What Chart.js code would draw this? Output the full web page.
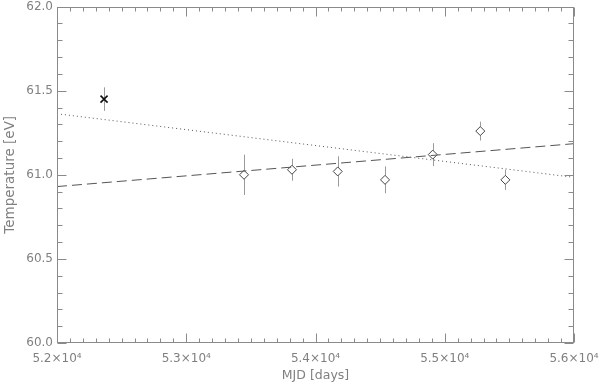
<!DOCTYPE html>
<html>
<head>
<meta charset="utf-8">
<script src="https://cdn.jsdelivr.net/npm/chart.js@4.4.0/dist/chart.umd.min.js"></script>
<style>
  html, body { margin: 0; padding: 0; background: #fff; }
  #wrap { width: 600px; height: 383px; }
</style>
</head>
<body>
<div id="wrap"><canvas id="tempChart" width="600" height="383"></canvas></div>
<script>
// observations (diamonds)
const mjd = [53447, 53818, 54172, 54538, 54907, 55275, 55469];
const temp = [61.00, 61.03, 61.02, 60.97, 61.12, 61.26, 60.97];
const tempErr = [0.12, 0.065, 0.09, 0.08, 0.068, 0.056, 0.06];

// the single cross point
const crossMjd = [52364];
const crossTemp = [61.45];
const crossErr = [0.07];

// fitted lines
const fitMjd = [52000, 56000];
const dashedFit = [60.93, 61.185];
const dottedFit = [61.363, 60.985];

const xTicks = [52000, 53000, 54000, 55000, 56000];
const yTicks = [60.0, 60.5, 61.0, 61.5, 62.0];

const axisColor = '#8a8a8a';
const textColor = '#808080';

function toPoints(xs, ys) {
    return xs.map((x, i) => ({ x: x, y: ys[i] }));
}

// draws the frame, minor ticks and error bars
const framePlugin = {
    id: 'frame',
    beforeDatasetsDraw(chart) {
        const ctx = chart.ctx;
        const xs = chart.scales.x;
        const ys = chart.scales.y;
        ctx.save();
        ctx.strokeStyle = '#9a9a9a';
        ctx.lineWidth = 1;
        const bars = [[mjd, temp, tempErr], [crossMjd, crossTemp, crossErr]];
        bars.forEach(b => {
            b[0].forEach((x, i) => {
                const px = Math.round(xs.getPixelForValue(x)) + 0.5;
                ctx.beginPath();
                ctx.moveTo(px, ys.getPixelForValue(b[1][i] - b[2][i]));
                ctx.lineTo(px, ys.getPixelForValue(b[1][i] + b[2][i]));
                ctx.stroke();
            });
        });
        ctx.restore();
    },
    afterDraw(chart) {
        const ctx = chart.ctx;
        const a = chart.chartArea;
        const xs = chart.scales.x;
        const ys = chart.scales.y;
        ctx.save();
        ctx.strokeStyle = axisColor;
        ctx.lineWidth = 1;
        const L = Math.round(a.left) + 0.5, R = Math.round(a.right) - 0.5;
        const T = Math.round(a.top) + 0.5, B = Math.round(a.bottom) - 0.5;
        ctx.strokeRect(L, T, R - L, B - T);
        ctx.beginPath();
        for (let v = 52000; v <= 56000; v += 100) {
            const px = Math.round(xs.getPixelForValue(v)) + 0.5;
            const len = (v % 1000 === 0) ? 9 : 4;
            ctx.moveTo(px, B); ctx.lineTo(px, B - len);
            ctx.moveTo(px, T); ctx.lineTo(px, T + len);
        }
        for (let k = 0; k <= 20; k++) {
            const v = 60 + k * 0.1;
            const py = Math.round(ys.getPixelForValue(v)) + 0.5;
            const len = (k % 5 === 0) ? 9 : 5;
            ctx.moveTo(L, py); ctx.lineTo(L + len, py);
            ctx.moveTo(R, py); ctx.lineTo(R - len, py);
        }
        ctx.stroke();
        ctx.restore();
    }
};

window.addEventListener('load', () => {
    const ctx = document.getElementById('tempChart').getContext('2d');

    new Chart(ctx, {
        type: 'scatter',
        data: {
            datasets: [
                {
                    label: 'dotted fit',
                    type: 'line',
                    data: toPoints(fitMjd, dottedFit),
                    borderColor: '#555',
                    borderWidth: 1,
                    borderDash: [1, 3],
                    pointRadius: 0,
                    fill: false
                },
                {
                    label: 'dashed fit',
                    type: 'line',
                    data: toPoints(fitMjd, dashedFit),
                    borderColor: '#555',
                    borderWidth: 1,
                    borderDash: [10, 5],
                    pointRadius: 0,
                    fill: false
                },
                {
                    label: 'cross',
                    data: toPoints(crossMjd, crossTemp),
                    pointStyle: 'crossRot',
                    pointRadius: 5,
                    borderColor: '#111',
                    borderWidth: 1.6
                },
                {
                    label: 'Temperature',
                    data: toPoints(mjd, temp),
                    pointStyle: 'rectRot',
                    pointRadius: 4.5,
                    backgroundColor: '#fff',
                    borderColor: '#444',
                    borderWidth: 1
                }
            ]
        },
        options: {
            responsive: false,
            animation: false,
            layout: { padding: { top: 5, right: 26, left: 0, bottom: 0 } },
            plugins: {
                legend: { display: false },
                tooltip: { enabled: false }
            },
            scales: {
                x: {
                    type: 'linear',
                    min: 52000,
                    max: 56000,
                    afterFit: s => { s.height = 40; s.paddingLeft = 0; s.paddingRight = 0; },
                    afterBuildTicks: s => { s.ticks = xTicks.map(v => ({ value: v })); },
                    grid: { display: false, drawTicks: false },
                    border: { display: false },
                    ticks: {
                        padding: 9,
                        maxRotation: 0,
                        color: textColor,
                        font: { family: 'DejaVu Sans', size: 12 },
                        callback: v => (v / 10000).toFixed(1) + '×10⁴'
                    },
                    title: {
                        display: true,
                        text: 'MJD [days]',
                        color: textColor,
                        font: { family: 'DejaVu Sans', size: 12.5 },
                        padding: { top: 0, bottom: 0 }
                    }
                },
                y: {
                    min: 60,
                    max: 62,
                    afterFit: s => { s.width = 57; s.paddingTop = 0; s.paddingBottom = 0; },
                    afterBuildTicks: s => { s.ticks = yTicks.map(v => ({ value: v })); },
                    grid: { display: false, drawTicks: false },
                    border: { display: false },
                    ticks: {
                        padding: 4,
                        color: textColor,
                        font: { family: 'DejaVu Sans', size: 12 },
                        callback: v => v.toFixed(1)
                    },
                    title: {
                        display: true,
                        text: 'Temperature [eV]',
                        color: textColor,
                        font: { family: 'DejaVu Sans', size: 13.5 },
                        padding: { top: 2, bottom: 0 }
                    }
                }
            }
        },
        plugins: [framePlugin]
    });
});
</script>
</body>
</html>
